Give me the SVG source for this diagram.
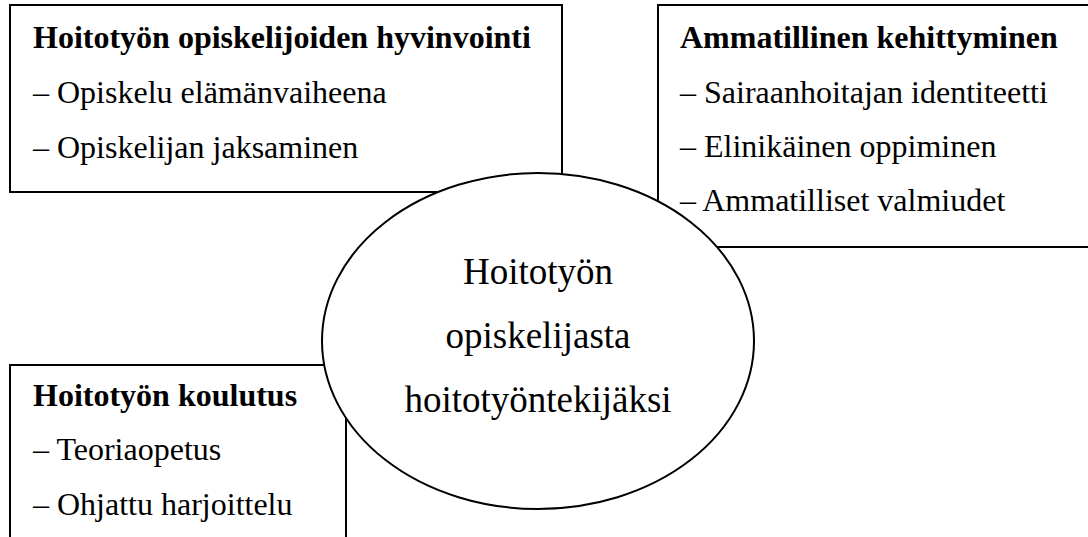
<svg xmlns="http://www.w3.org/2000/svg" width="1088" height="537" viewBox="0 0 1088 537">
  <style>
    .box { fill: #ffffff; stroke: #000000; stroke-width: 2; }
    .edge { fill: none; stroke: #000000; stroke-width: 2; }
    .hub { fill: #ffffff; stroke: #000000; stroke-width: 2; }
    text { font-family: "Liberation Serif", "Times New Roman", serif; fill: #000000; }
    .title { font-size: 32px; font-weight: bold; }
    .item { font-size: 32px; }
    .center { font-size: 37px; text-anchor: middle; }
  </style>
  <rect width="1088" height="537" fill="#ffffff"/>

  <g id="node-hyvinvointi">
    <rect class="box" x="10" y="5" width="552" height="187"/>
    <text class="title" x="33" y="48">Hoitotyön opiskelijoiden hyvinvointi</text>
    <text class="item" x="33" y="103">– Opiskelu elämänvaiheena</text>
    <text class="item" x="33" y="158">– Opiskelijan jaksaminen</text>
  </g>

  <g id="node-koulutus">
    <rect class="box" x="10" y="365" width="336" height="200"/>
    <text class="title" x="33" y="406">Hoitotyön koulutus</text>
    <text class="item" x="33" y="460">– Teoriaopetus</text>
    <text class="item" x="33" y="515">– Ohjattu harjoittelu</text>
  </g>

  <g id="node-center">
    <ellipse class="hub" cx="538" cy="341" rx="216" ry="168"/>
    <text class="center" x="538" y="284">Hoitotyön</text>
    <text class="center" x="538" y="348">opiskelijasta</text>
    <text class="center" x="538" y="412">hoitotyöntekijäksi</text>
  </g>

  <g id="node-ammatillinen">
    <path class="edge" d="M1095 5 H658 V201.3"/>
    <path class="edge" d="M717 247 H1095"/>
    <text class="title" x="680" y="48">Ammatillinen kehittyminen</text>
    <text class="item" x="680" y="103">– Sairaanhoitajan identiteetti</text>
    <text class="item" x="680" y="157">– Elinikäinen oppiminen</text>
    <text class="item" x="680" y="211">– Ammatilliset valmiudet</text>
  </g>

  <g id="connectors"></g>
</svg>
